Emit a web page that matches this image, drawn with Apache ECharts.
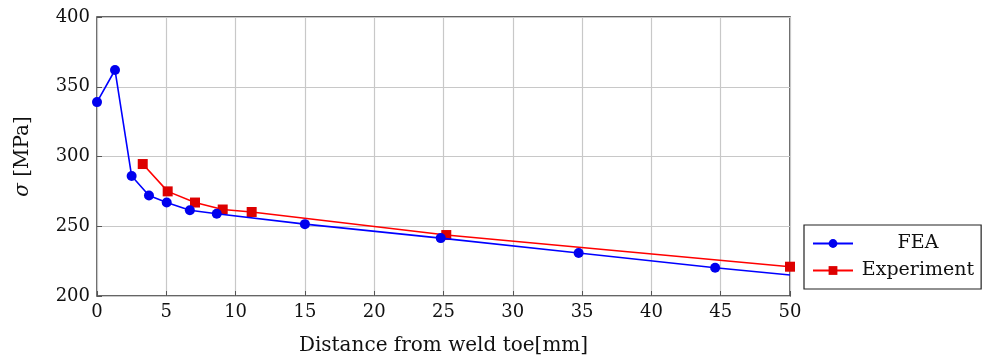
<!DOCTYPE html>
<html>
<head>
<meta charset="utf-8">
<script src="https://cdn.jsdelivr.net/npm/echarts@6/dist/echarts.min.js"></script>
<style>
  html, body { margin: 0; padding: 0; background: #fff; }
  #main { width: 982px; height: 360px; }
</style>
</head>
<body>
<div id="main"></div>
<script>
// data
const feaX = [0, 1.3, 2.5, 3.75, 5.03, 6.7, 8.64, 15, 24.8, 34.75, 44.6, 50];
const feaY = [339, 362, 286, 272, 267, 261.5, 259, 251.5, 241.5, 230.8, 220.3, 215];
const expX = [3.3, 5.1, 7.07, 9.07, 11.16, 25.2, 50];
const expY = [294.6, 275, 267, 262, 260.2, 243.7, 221];

const font = 'DejaVu Serif';
const ink = '#111';

// last FEA point has no visible marker
let feaData = feaX.map((x, i) => {
  if (i === feaX.length - 1) return { value: [x, feaY[i]], symbol: 'none' };
  return [x, feaY[i]];
});
let expData = expX.map((x, i) => [x, expY[i]]);

let myChart = echarts.init(document.getElementById('main'));
let option = {
  animation: false,
  textStyle: { fontFamily: font },
  grid: {
    left: 97, right: 192, top: 17, bottom: 64,
    outerBoundsMode: 'none',
    show: true, borderColor: '#333', borderWidth: 1.5
  },
  legend: {
    orient: 'vertical',
    left: 804,
    top: 225,
    padding: [9, 7, 9, 8],
    itemGap: 8,
    itemWidth: 40,
    itemHeight: 11,
    borderColor: '#222',
    borderWidth: 1.2,
    formatter: name => '{c|' + name + '}',
    textStyle: {
      fontFamily: font, fontSize: 19, color: ink,
      rich: { c: { fontFamily: font, fontSize: 19, color: ink, width: 120, align: 'center' } }
    },
    data: ['FEA', 'Experiment']
  },
  xAxis: {
    type: 'value',
    min: 0, max: 50, interval: 5,
    name: 'Distance from weld toe[mm]',
    nameLocation: 'middle',
    nameGap: 40,
    nameTextStyle: { fontFamily: font, fontSize: 20, color: ink },
    axisLine: { show: false },
    axisTick: { inside: true, length: 5, lineStyle: { color: '#555' } },
    axisLabel: { fontFamily: font, fontSize: 18, color: ink, margin: 7 },
    splitLine: { lineStyle: { color: '#c8c8c8', width: 1.2 } }
  },
  yAxis: {
    type: 'value',
    min: 200, max: 400, interval: 50,
    name: '{i|σ} [MPa]',
    nameLocation: 'middle',
    nameRotate: 90,
    nameGap: 64,
    nameTextStyle: {
      fontFamily: font, fontSize: 20, color: ink,
      rich: { i: { fontFamily: font, fontStyle: 'italic', fontSize: 20, color: ink } }
    },
    axisLine: { show: false },
    axisTick: { inside: true, length: 5, lineStyle: { color: '#555' } },
    axisLabel: { fontFamily: font, fontSize: 18, color: ink, margin: 7 },
    splitLine: { lineStyle: { color: '#c8c8c8', width: 1.2 } }
  },
  series: [
    {
      name: 'FEA',
      type: 'line',
      data: feaData,
      symbol: 'circle',
      symbolSize: 10,
      showAllSymbol: true,
      clip: false,
      itemStyle: { color: '#0000ee' },
      lineStyle: { color: '#0000ff', width: 1.6 },
      z: 3
    },
    {
      name: 'Experiment',
      type: 'line',
      data: expData,
      symbol: 'rect',
      symbolSize: 10,
      showAllSymbol: true,
      clip: false,
      itemStyle: { color: '#dd0000' },
      lineStyle: { color: '#ff0000', width: 1.6 },
      z: 2
    }
  ]
};
myChart.setOption(option);
</script>
</body>
</html>
